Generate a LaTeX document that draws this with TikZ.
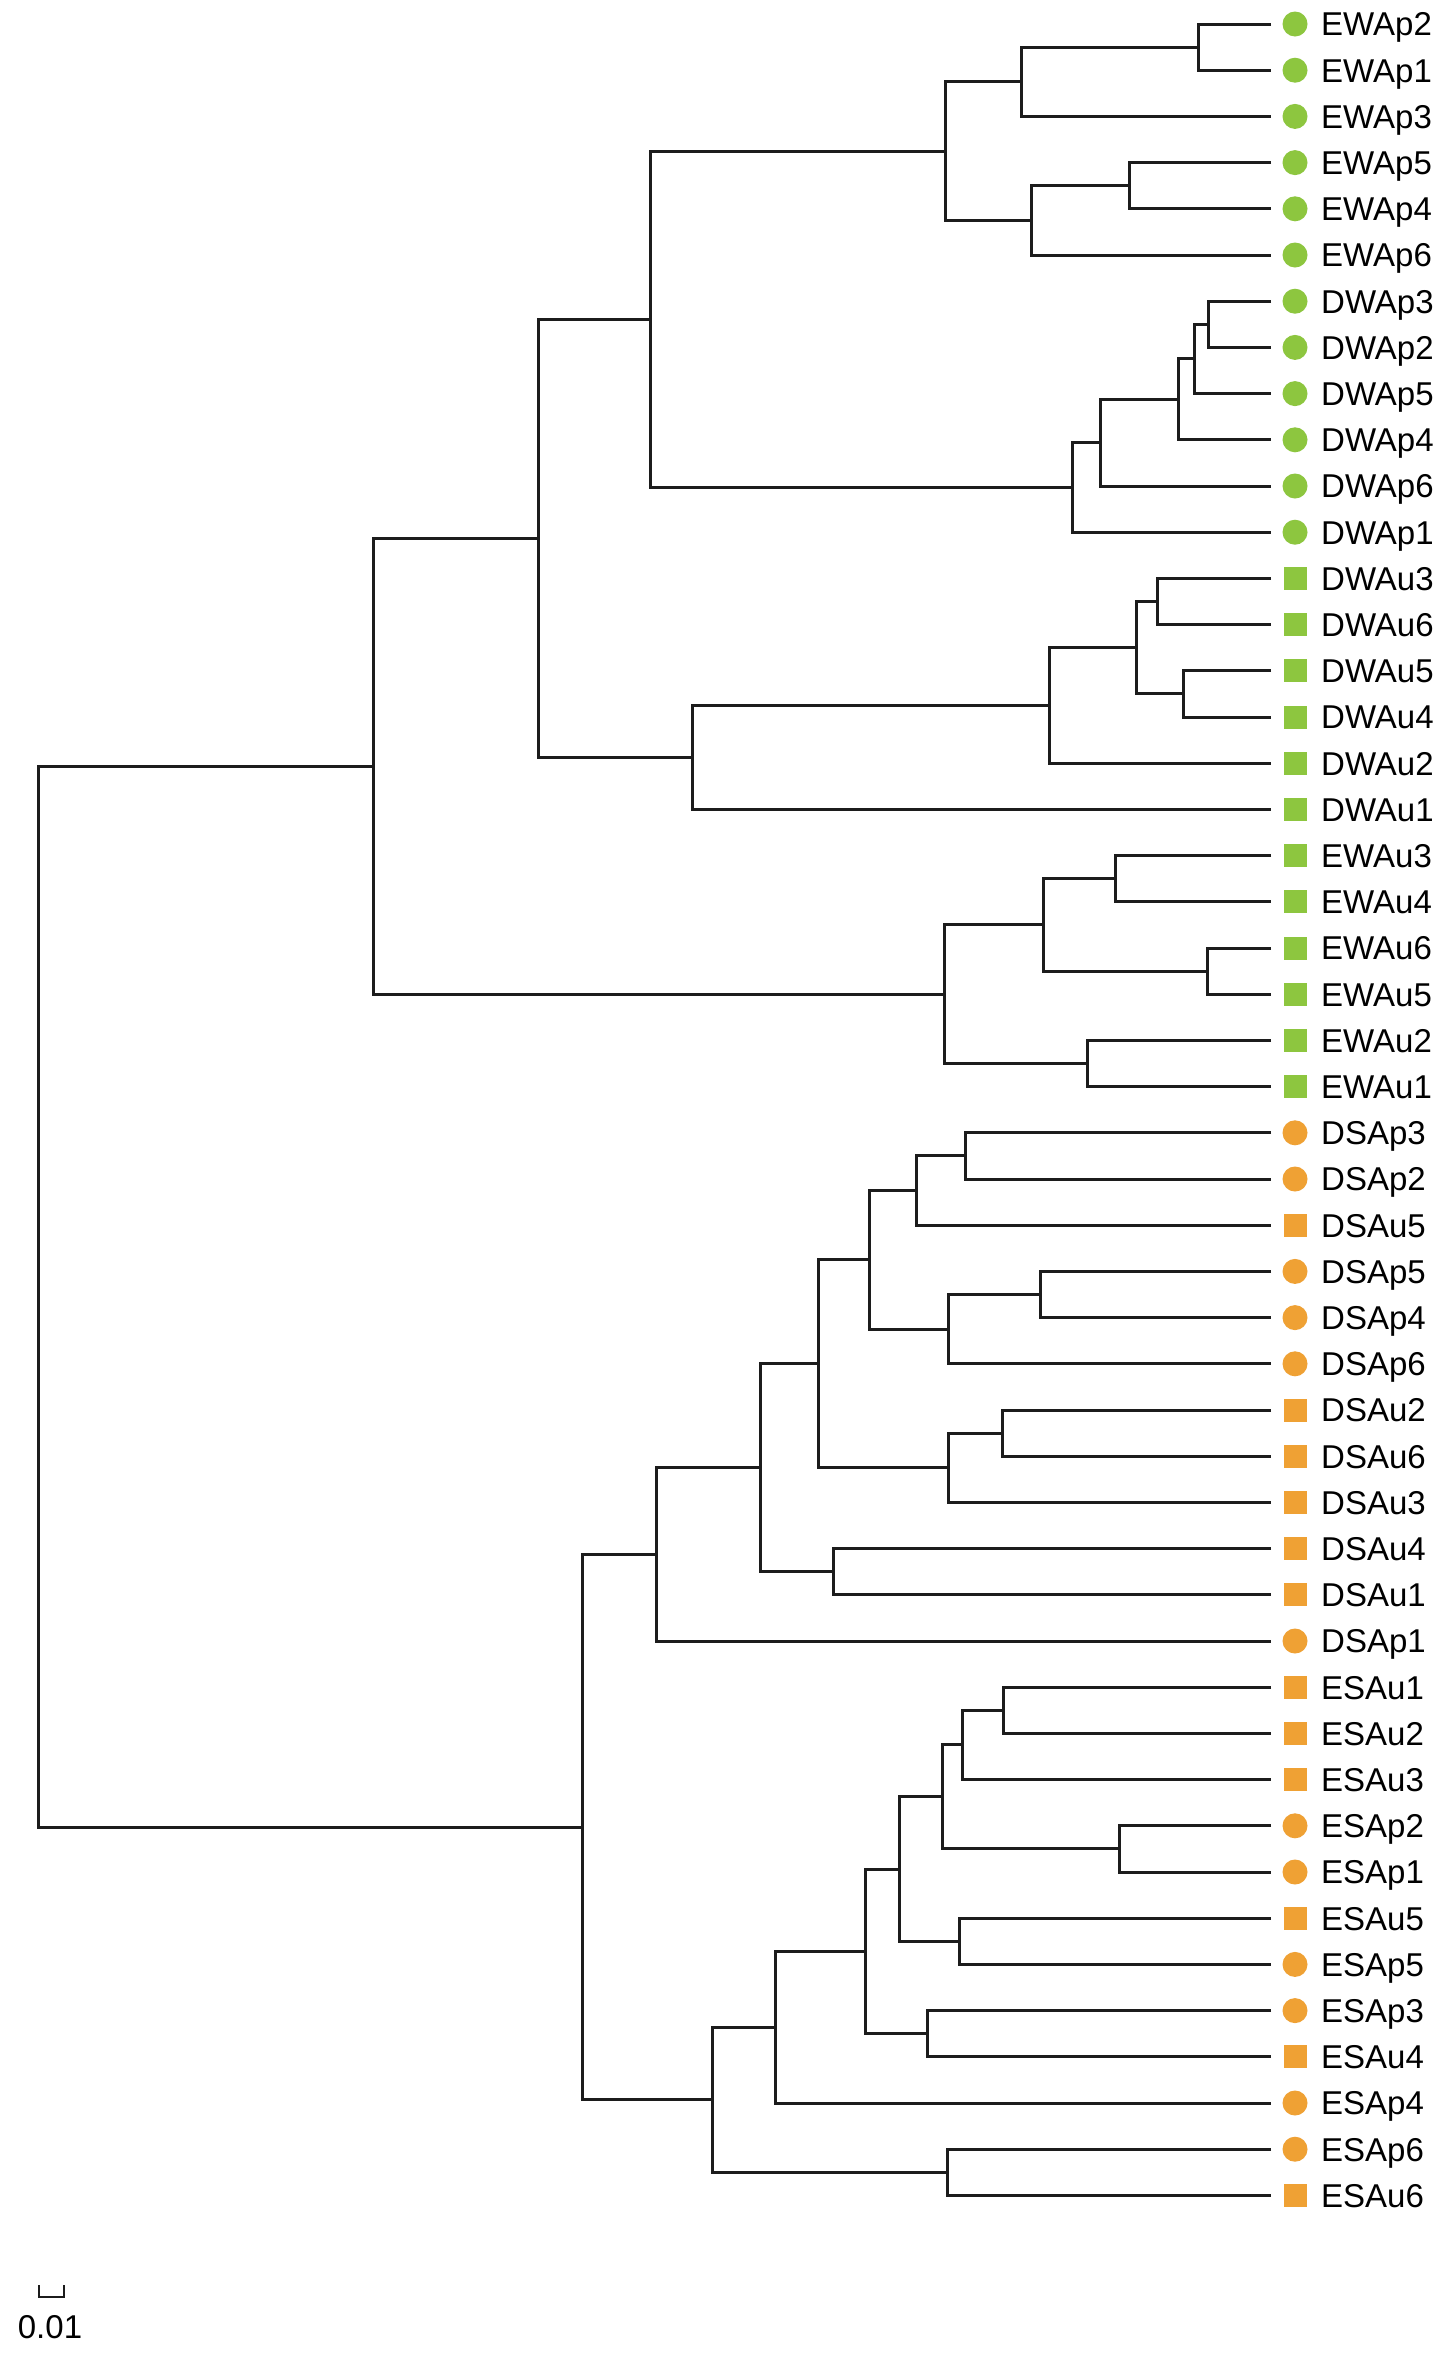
\documentclass[tikz,border=0pt]{standalone}
\usepackage{fontspec}
\setmainfont{Liberation Sans}
\usetikzlibrary{calc}
\definecolor{grn}{RGB}{141,198,63}
\definecolor{org}{RGB}{239,161,52}
\definecolor{ln}{RGB}{28,28,28}
\tikzset{
  br/.style={draw=ln, line width=3pt},
  mk/.style={inner sep=0pt, outer sep=0pt, draw=none},
  lbl/.style={anchor=base west, inner sep=0pt, font=\fontsize{33}{36}\selectfont, text=black},
}
\newcommand\inode[4]{%
  \path let \p1=($(#3)!0.5!(#4)$) in coordinate (#1) at (#2pt,\y1);
  \draw[br] (#3) -| (#1) |- (#4);
}
\begin{document}
\begin{tikzpicture}[x=1pt,y=-1pt]
\fill[white] (0,0) rectangle (1450,2359);
\useasboundingbox (0,0) rectangle (1450,2359);
% leaves
\foreach \nm/\cl/\sh/\sz [count=\i from 0] in {
 EWAp2/grn/circle/25pt, EWAp1/grn/circle/25pt, EWAp3/grn/circle/25pt,
 EWAp5/grn/circle/25pt, EWAp4/grn/circle/25pt, EWAp6/grn/circle/25pt,
 DWAp3/grn/circle/25pt, DWAp2/grn/circle/25pt, DWAp5/grn/circle/25pt,
 DWAp4/grn/circle/25pt, DWAp6/grn/circle/25pt, DWAp1/grn/circle/25pt,
 DWAu3/grn/rectangle/23pt, DWAu6/grn/rectangle/23pt, DWAu5/grn/rectangle/23pt,
 DWAu4/grn/rectangle/23pt, DWAu2/grn/rectangle/23pt, DWAu1/grn/rectangle/23pt,
 EWAu3/grn/rectangle/23pt, EWAu4/grn/rectangle/23pt, EWAu6/grn/rectangle/23pt,
 EWAu5/grn/rectangle/23pt, EWAu2/grn/rectangle/23pt, EWAu1/grn/rectangle/23pt,
 DSAp3/org/circle/25pt, DSAp2/org/circle/25pt, DSAu5/org/rectangle/23pt,
 DSAp5/org/circle/25pt, DSAp4/org/circle/25pt, DSAp6/org/circle/25pt,
 DSAu2/org/rectangle/23pt, DSAu6/org/rectangle/23pt, DSAu3/org/rectangle/23pt,
 DSAu4/org/rectangle/23pt, DSAu1/org/rectangle/23pt, DSAp1/org/circle/25pt,
 ESAu1/org/rectangle/23pt, ESAu2/org/rectangle/23pt, ESAu3/org/rectangle/23pt,
 ESAp2/org/circle/25pt, ESAp1/org/circle/25pt, ESAu5/org/rectangle/23pt,
 ESAp5/org/circle/25pt, ESAp3/org/circle/25pt, ESAu4/org/rectangle/23pt,
 ESAp4/org/circle/25pt, ESAp6/org/circle/25pt, ESAu6/org/rectangle/23pt}
{
  \coordinate (\nm) at (1271, {24+46.2*\i});
  \node[mk, shape=\sh, fill=\cl, minimum size=\sz] (\nm-m) at (1295, {24+46.2*\i}) {};
  \node[lbl] (\nm-t) at (1321, {24+46.2*\i+11.8}) {\nm};
}
% green clade
\inode{a1}{1198}{EWAp2}{EWAp1}
\inode{a2}{1021}{a1}{EWAp3}
\inode{a3}{1129}{EWAp5}{EWAp4}
\inode{a4}{1031}{a3}{EWAp6}
\inode{a5}{945}{a2}{a4}
\inode{b1}{1208}{DWAp3}{DWAp2}
\inode{b2}{1194}{b1}{DWAp5}
\inode{b3}{1178}{b2}{DWAp4}
\inode{b4}{1100}{b3}{DWAp6}
\inode{b5}{1072}{b4}{DWAp1}
\inode{c1}{650}{a5}{b5}
\inode{d1}{1157}{DWAu3}{DWAu6}
\inode{d2}{1183}{DWAu5}{DWAu4}
\inode{d3}{1136}{d1}{d2}
\inode{d4}{1049}{d3}{DWAu2}
\inode{d5}{692}{d4}{DWAu1}
\inode{c2}{538}{c1}{d5}
\inode{e1}{1115}{EWAu3}{EWAu4}
\inode{e2}{1207}{EWAu6}{EWAu5}
\inode{e3}{1043}{e1}{e2}
\inode{e4}{1087}{EWAu2}{EWAu1}
\inode{e5}{944}{e3}{e4}
\inode{G}{373}{c2}{e5}
% orange clade
\inode{f1}{965}{DSAp3}{DSAp2}
\inode{f2}{916}{f1}{DSAu5}
\inode{f3}{1040}{DSAp5}{DSAp4}
\inode{f4}{948}{f3}{DSAp6}
\inode{f5}{869}{f2}{f4}
\inode{f6}{1002}{DSAu2}{DSAu6}
\inode{f7}{948}{f6}{DSAu3}
\inode{f8}{818}{f5}{f7}
\inode{f9}{833}{DSAu4}{DSAu1}
\inode{f10}{760}{f8}{f9}
\inode{f11}{656}{f10}{DSAp1}
\inode{h1}{1003}{ESAu1}{ESAu2}
\inode{h2}{962}{h1}{ESAu3}
\inode{h3}{1119}{ESAp2}{ESAp1}
\inode{h4}{942}{h2}{h3}
\inode{h5}{959}{ESAu5}{ESAp5}
\inode{h6}{899}{h4}{h5}
\inode{h7}{927}{ESAp3}{ESAu4}
\inode{h8}{865}{h6}{h7}
\inode{h9}{775}{h8}{ESAp4}
\inode{h10}{947}{ESAp6}{ESAu6}
\inode{h11}{712}{h9}{h10}
\inode{O}{582}{f11}{h11}
\inode{root}{38}{G}{O}
% scale bar
\coordinate (sb1) at (39,2285);
\coordinate (sb2) at (39,2297);
\coordinate (sb3) at (64,2297);
\coordinate (sb4) at (64,2285);
\draw[draw=ln, line width=2.4pt] (sb1) -- (sb2) -- (sb3) -- (sb4);
\node[inner sep=0pt, font=\fontsize{33}{36}\selectfont] (sbl) at (50,2327) {0.01};
\end{tikzpicture}
\end{document}
